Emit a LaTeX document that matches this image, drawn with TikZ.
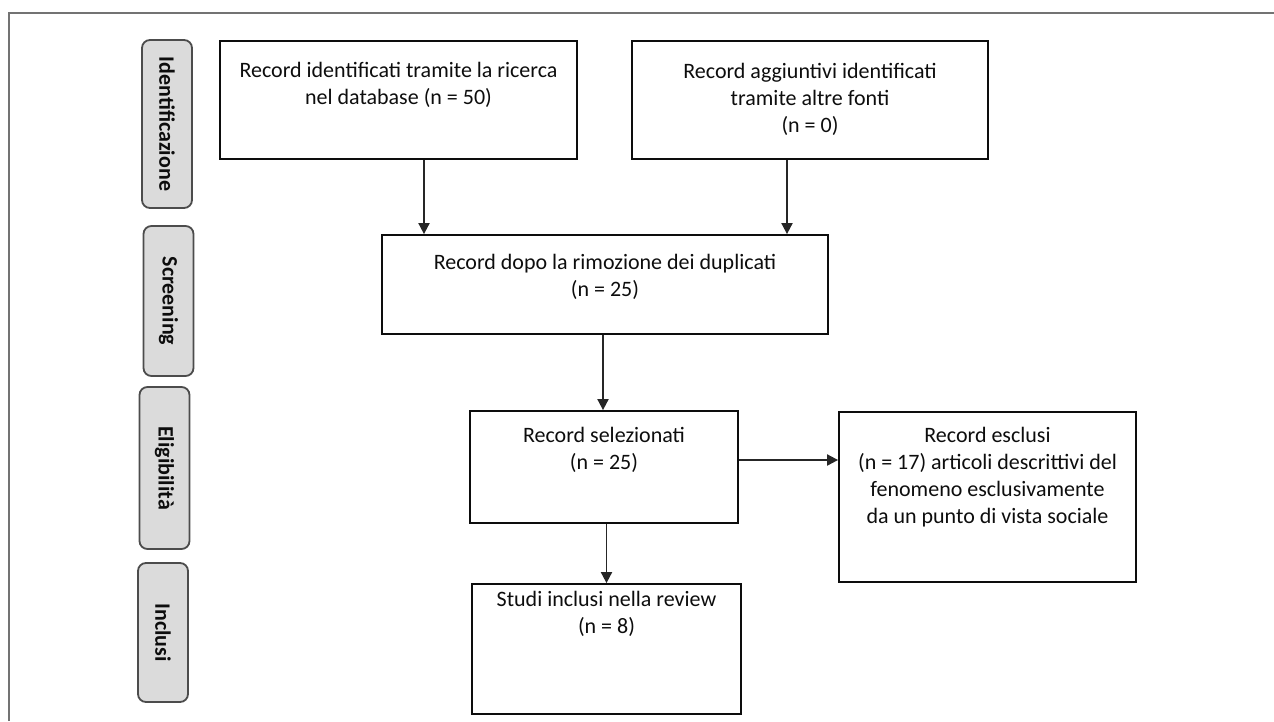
\documentclass[tikz,border=0pt]{standalone}
\usepackage{fontspec}
\setmainfont{Carlito}
\usepackage{tikz}
\usetikzlibrary{arrows.meta}
\tikzset{
phasenodev1/.style={rectangle, rounded corners=8pt, draw=black!70, fill=black!14, line width=1.8pt, inner sep=0pt, minimum height=50pt, rotate=-90, text=black!95, font=\fontsize{22}{26}\selectfont\bfseries},
boxnodev1/.style={rectangle, draw=black!95, fill=none, line width=1.8pt, inner sep=0pt},
textnodev1/.style={align=center, inner sep=0pt, text=black!95, font=\fontsize{22}{27}\selectfont},
arrowv1/.style={line width=1.9pt, draw=black!85, -{Triangle[length=11pt,width=11pt]}},
framev1/.style={line width=1.6pt, draw=black!55},
}
\begin{document}
\begin{tikzpicture}[x=1pt,y=-1pt]
        \useasboundingbox (0,0) rectangle (1274,721);
        \draw[framev1] (9,721) -- (9,13) -- (1274,13);
        \node[phasenodev1, minimum width=168pt] at (167,124) (ph1) {Identificazione};
        \node[phasenodev1, minimum width=150pt] at (168.5,301) (ph2) {Screening};
        \node[phasenodev1, minimum width=162pt] at (164.5,468) (ph3) {Eligibilità};
        \node[phasenodev1, minimum width=139pt] at (163,632.5) (ph4) {Inclusi};
        \node[boxnodev1, minimum width=357pt, minimum height=118pt] at (398.5,100) (id) {};
        \node[boxnodev1, minimum width=356pt, minimum height=118pt] at (810,100) (agg) {};
        \node[boxnodev1, minimum width=446pt, minimum height=99pt] at (605,284.5) (dup) {};
        \node[boxnodev1, minimum width=268pt, minimum height=112pt] at (604,467) (sel) {};
        \node[boxnodev1, minimum width=297pt, minimum height=170pt] at (987.5,497) (escl) {};
        \node[boxnodev1, minimum width=269pt, minimum height=130pt] at (606.5,649) (incl) {};
        \node[textnodev1] at (398.5,85) (idtxt) {Record identificati tramite la ricerca\\nel database (n = 50)};
        \node[textnodev1] at (810,99) (aggtxt) {Record aggiuntivi identificati\\tramite altre fonti\\(n = 0)};
        \node[textnodev1] at (605,277) (duptxt) {Record dopo la rimozione dei duplicati\\(n = 25)};
        \node[textnodev1] at (604,450) (seltxt) {Record selezionati\\(n = 25)};
        \node[textnodev1] at (987.5,477) (escltxt) {Record esclusi\\(n = 17) articoli descrittivi del\\fenomeno esclusivamente\\da un punto di vista sociale};
        \node[textnodev1] at (606.5,614) (incltxt) {Studi inclusi nella review\\(n = 8)};
        \draw[arrowv1] ([xshift=25.5pt]id.south) -- ([xshift=25.5pt]id.south |- dup.north);
        \draw[arrowv1] ([xshift=-23pt]agg.south) -- ([xshift=-23pt]agg.south |- dup.north);
        \draw[arrowv1] ([xshift=-2pt]dup.south) -- ([xshift=-2pt]dup.south |- sel.north);
        \draw[arrowv1] ([yshift=7pt]sel.east) -- ([yshift=7pt]sel.east -| escl.west);
        \draw[arrowv1] (incl.north |- sel.south) -- (incl.north);
    \end{tikzpicture}
\end{document}
